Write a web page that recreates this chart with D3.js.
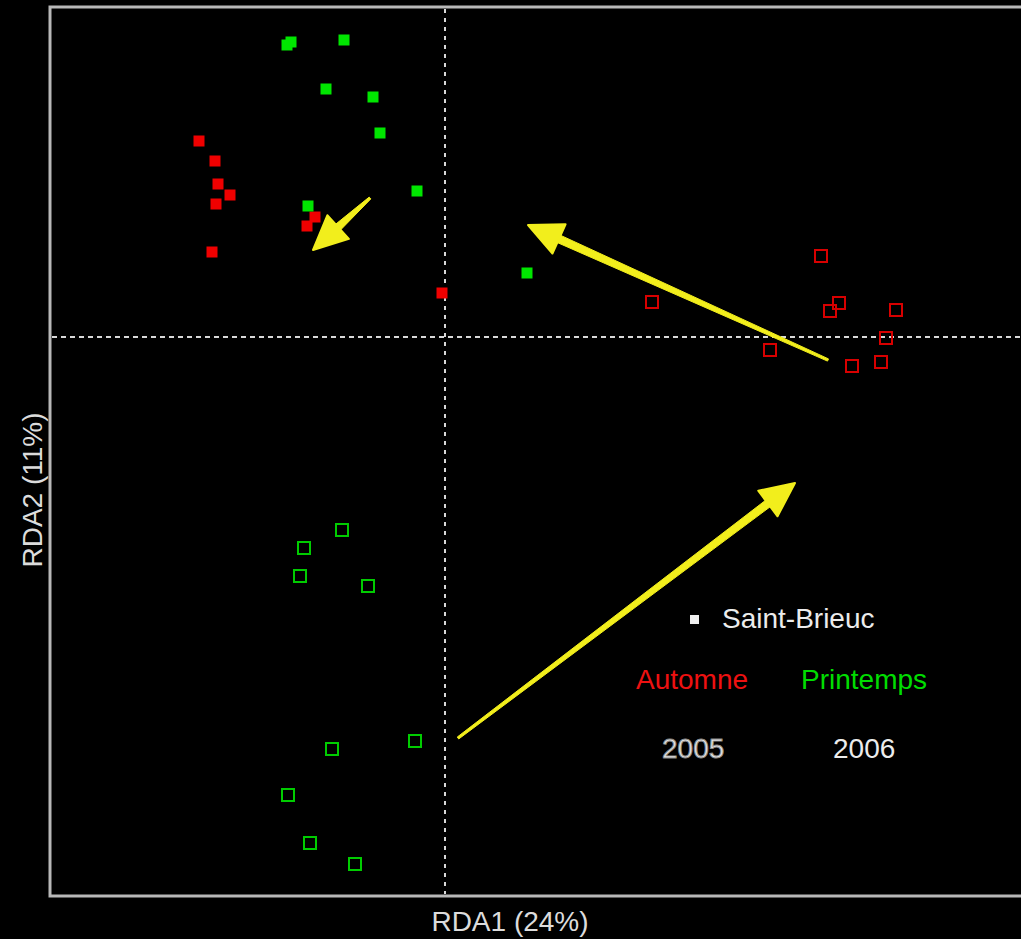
<!DOCTYPE html>
<html><head><meta charset="utf-8">
<script src="https://cdn.jsdelivr.net/npm/d3@7"></script>
<style>
html,body{margin:0;padding:0;background:#000;}
svg{display:block;}
text{font-family:"Liberation Sans",Arial,sans-serif;}
</style></head>
<body>
<script>
// RDA site scores (RDA1, RDA2)
const automne2005 = [[-2.46,1.96],[-2.30,1.76],[-2.27,1.53],[-2.15,1.42],[-2.29,1.33],[-2.33,0.85],[-1.30,1.20],[-1.38,1.11],[-0.03,0.44]];
const printemps2005 = [[-1.58,2.92],[-1.54,2.95],[-1.01,2.97],[-1.19,2.48],[-0.72,2.40],[-0.65,2.04],[-0.28,1.46],[-1.37,1.31],[0.82,0.64]];
const automne2006 = [[3.76,0.81],[2.07,0.35],[3.94,0.34],[3.85,0.26],[4.51,0.27],[4.41,-0.01],[3.25,-0.13],[4.07,-0.29],[4.36,-0.25]];
const printemps2006 = [[-1.03,-1.93],[-1.41,-2.11],[-1.45,-2.39],[-0.77,-2.49],[-0.30,-4.04],[-1.13,-4.12],[-1.57,-4.58],[-1.35,-5.06],[-0.90,-5.27]];
// arrows: [fromX, fromY, toX, toY]
const arrows = [[-0.75,1.39,-1.32,0.87],[3.83,-0.23,0.83,1.12],[0.13,-4.01,3.50,-1.46]];
const xDomain = [-3.95, 5.85];
const yDomain = [3.30, -5.59];
const axisLabels = {x:"RDA1 (24%)", y:"RDA2 (11%)"};
const legendSite = "Saint-Brieuc";
const seasonLabels = ["Automne","Printemps"];
const yearLabels = ["2005","2006"];

const W=1021,H=939;
const svg=d3.select("body").append("svg").attr("width",W).attr("height",H);
svg.append("rect").attr("width",W).attr("height",H).attr("fill","#000");

const x=d3.scaleLinear().domain(xDomain).range([50,1030]);
const y=d3.scaleLinear().domain(yDomain).range([7,896]);

// frame
svg.append("rect").attr("x",50).attr("y",7).attr("width",1000).attr("height",889)
  .attr("fill","none").attr("stroke","#b8b8b8").attr("stroke-width",3);

// zero lines
svg.append("line").attr("x1",x(0)).attr("x2",x(0)).attr("y1",9).attr("y2",894)
  .attr("stroke","#d8d8d8").attr("stroke-width",2).attr("stroke-dasharray","4,5");
svg.append("line").attr("x1",52).attr("x2",W).attr("y1",y(0)).attr("y2",y(0))
  .attr("stroke","#d8d8d8").attr("stroke-width",2).attr("stroke-dasharray","5,4");

const sF=11, sO=12;
function filled(data,color){
  svg.append("g").selectAll("rect").data(data).join("rect")
    .attr("x",d=>x(d[0])-sF/2).attr("y",d=>y(d[1])-sF/2)
    .attr("width",sF).attr("height",sF).attr("fill",color);
}
function open(data,color){
  svg.append("g").selectAll("rect").data(data).join("rect")
    .attr("x",d=>x(d[0])-sO/2).attr("y",d=>y(d[1])-sO/2)
    .attr("width",sO).attr("height",sO).attr("fill","none")
    .attr("stroke",color).attr("stroke-width",2);
}
filled(automne2005,"#f00000");
filled(printemps2005,"#00e600");
open(automne2006,"#d80000");
open(printemps2006,"#00cc00");

// arrows
const ag=svg.append("g");
arrows.forEach(a=>{
  const x1=x(a[0]),y1=y(a[1]),x2=x(a[2]),y2=y(a[3]);
  const dx=x2-x1,dy=y2-y1,L=Math.hypot(dx,dy);
  const ux=dx/L,uy=dy/L,px=-uy,py=ux;
  const hl=Math.min(34,L*0.45), hw=16;
  const bx=x2-ux*hl, by=y2-uy*hl;
  const w0=1.2, w1=4;
  const shaft=[[x1+px*w0,y1+py*w0],[bx+ux*4+px*w1,by+uy*4+py*w1],[bx+ux*4-px*w1,by+uy*4-py*w1],[x1-px*w0,y1-py*w0]];
  ag.append("polygon").attr("points",shaft.map(p=>p.join(",")).join(" "))
    .attr("fill","#f2ee1c").attr("stroke","#f2ee1c").attr("stroke-width",1).attr("stroke-linejoin","round");
  const head=[[x2,y2],[bx+px*hw,by+py*hw],[bx-px*hw,by-py*hw]];
  ag.append("polygon").attr("points",head.map(p=>p.join(",")).join(" "))
    .attr("fill","#f2ee1c").attr("stroke","#f2ee1c").attr("stroke-width",2).attr("stroke-linejoin","round");
});

// legend
svg.append("rect").attr("x",690).attr("y",615).attr("width",9).attr("height",9).attr("fill","#f0f0f0");
svg.append("text").attr("x",722).attr("y",628).attr("font-size",28).attr("fill","#ececec").text(legendSite);
svg.append("text").attr("x",636).attr("y",689).attr("font-size",28).attr("fill","#ee1111").text(seasonLabels[0]);
svg.append("text").attr("x",801).attr("y",689).attr("font-size",28).attr("fill","#00dd00").text(seasonLabels[1]);
svg.append("text").attr("x",662).attr("y",758).attr("font-size",28).attr("fill","#e6e6e6")
  .attr("stroke","#8a8a8a").attr("stroke-width",0.9).text(yearLabels[0]);
svg.append("text").attr("x",833).attr("y",758).attr("font-size",28).attr("fill","#ececec").text(yearLabels[1]);

// axis labels
svg.append("text").attr("x",510).attr("y",931).attr("text-anchor","middle").attr("font-size",28)
  .attr("fill","#dcdcdc").text(axisLabels.x);
svg.append("text").attr("transform","translate(42,490) rotate(-90)").attr("text-anchor","middle")
  .attr("font-size",28).attr("fill","#dcdcdc").text(axisLabels.y);
</script>
</body></html>
